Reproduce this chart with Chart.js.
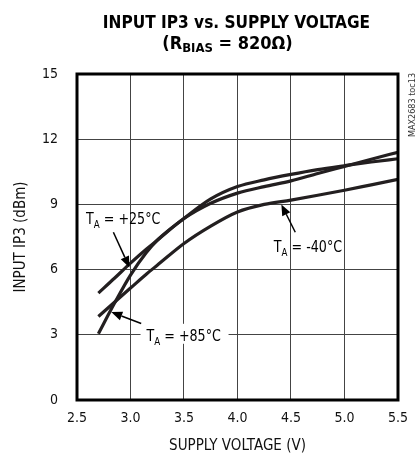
<!DOCTYPE html>
<html>
<head>
<meta charset="utf-8">
<script src="https://cdn.jsdelivr.net/npm/chart.js@4.4.1/dist/chart.umd.min.js"></script>
<style>
  html, body { margin: 0; padding: 0; background: #fff; }
  #wrap { width: 418px; height: 455px; }
</style>
</head>
<body>
<div id="wrap"><canvas id="grafico" width="418" height="455"></canvas></div>
<script>
// Tensión de alimentación (V) y IIP3 de entrada (dBm)
const voltajes = [2.7, 2.85, 3.0, 3.15, 3.25, 3.5, 3.75, 4.0, 4.25, 4.5, 4.75, 5.0, 5.25, 5.5];
const iip3_25 = [4.92, 5.6, 6.3, 6.95, 7.35, 8.35, 9.05, 9.52, 9.82, 10.08, 10.42, 10.75, 11.08, 11.4];
const iip3_85 = [3.05, 4.45, 5.75, 6.8, 7.35, 8.35, 9.25, 9.82, 10.13, 10.38, 10.6, 10.78, 10.95, 11.1];
const iip3_m40 = [3.84, 4.5, 5.15, 5.8, 6.2, 7.2, 8.0, 8.65, 9.0, 9.2, 9.42, 9.65, 9.9, 10.15];

const ticksX = [2.5, 3.0, 3.5, 4.0, 4.5, 5.0, 5.5];
const ticksY = [0, 3, 6, 9, 12, 15];

const FUENTE = "'Liberation Sans Narrow', 'DejaVu Sans Condensed', 'Liberation Sans', sans-serif";
const TINTA = '#231f20';

function puntos(valores) {
    return voltajes.map((v, i) => ({ x: v, y: valores[i] }));
}

// texto "TA = ..." con subíndice (estrechado a mano)
function etiquetaTA(ctx, x, y, resto) {
    ctx.save();
    ctx.translate(x, y);
    ctx.scale(0.88, 1);
    ctx.fillStyle = '#000';
    ctx.textBaseline = 'alphabetic';
    ctx.textAlign = 'left';
    ctx.font = '16px ' + FUENTE;
    ctx.fillText('T', 0, 0);
    let w = ctx.measureText('T').width;
    ctx.font = '11px ' + FUENTE;
    ctx.fillText('A', w, 4);
    w += ctx.measureText('A').width;
    ctx.font = '16px ' + FUENTE;
    ctx.fillText(resto, w, 0);
    ctx.restore();
}

function flecha(ctx, x1, y1, x2, y2) {
    const ang = Math.atan2(y2 - y1, x2 - x1);
    const largo = 11, ancho = 4.5;
    const bx = x2 - largo * Math.cos(ang), by = y2 - largo * Math.sin(ang);
    ctx.strokeStyle = '#000';
    ctx.lineWidth = 1.5;
    ctx.beginPath();
    ctx.moveTo(x1, y1);
    ctx.lineTo(bx, by);
    ctx.stroke();
    ctx.fillStyle = '#000';
    ctx.beginPath();
    ctx.moveTo(x2, y2);
    ctx.lineTo(bx + ancho * Math.sin(ang), by - ancho * Math.cos(ang));
    ctx.lineTo(bx - ancho * Math.sin(ang), by + ancho * Math.cos(ang));
    ctx.closePath();
    ctx.fill();
}

const extras = {
    id: 'extras',
    afterDraw(chart) {
        const ctx = chart.ctx;
        const a = chart.chartArea;
        const sx = chart.scales.x, sy = chart.scales.y;
        ctx.save();

        // marco grueso
        ctx.strokeStyle = '#000';
        ctx.lineWidth = 3;
        ctx.strokeRect(a.left, a.top, a.right - a.left, a.bottom - a.top);

        // título
        const cx = (a.left + a.right) / 2;
        ctx.fillStyle = '#000';
        ctx.textAlign = 'center';
        ctx.textBaseline = 'middle';
        ctx.font = 'bold 18px ' + FUENTE;
        ctx.save();
        ctx.translate(cx - 1, 23);
        ctx.scale(0.95, 1);
        ctx.fillText('INPUT IP3 vs. SUPPLY VOLTAGE', 0, 0);
        ctx.restore();
        const p1 = '(R', p2 = 'BIAS', p3 = ' = 820Ω)';
        ctx.font = 'bold 18px ' + FUENTE;
        const w1 = ctx.measureText(p1).width, w3 = ctx.measureText(p3).width;
        ctx.font = 'bold 13px ' + FUENTE;
        const w2 = ctx.measureText(p2).width;
        let x0 = cx - 10 - (w1 + w2 + w3) / 2;
        ctx.textAlign = 'left';
        ctx.textBaseline = 'alphabetic';
        ctx.font = 'bold 18px ' + FUENTE;
        ctx.fillText(p1, x0, 49);
        ctx.font = 'bold 13px ' + FUENTE;
        ctx.fillText(p2, x0 + w1, 52);
        ctx.font = 'bold 18px ' + FUENTE;
        ctx.fillText(p3, x0 + w1 + w2, 49);

        // marca lateral
        ctx.save();
        ctx.translate(413, 105);
        ctx.rotate(-Math.PI / 2);
        ctx.font = '9px ' + FUENTE;
        ctx.textAlign = 'center';
        ctx.textBaseline = 'middle';
        ctx.fillStyle = '#333';
        ctx.fillText('MAX2683 toc13', 0, 0);
        ctx.restore();

        // etiquetas de temperatura
        etiquetaTA(ctx, sx.getPixelForValue(2.585), sy.getPixelForValue(8.1), ' = +25°C');
        flecha(ctx, sx.getPixelForValue(2.84), sy.getPixelForValue(7.72), sx.getPixelForValue(2.99), sy.getPixelForValue(6.1));

        etiquetaTA(ctx, sx.getPixelForValue(4.34), sy.getPixelForValue(6.8), ' = -40°C');
        flecha(ctx, sx.getPixelForValue(4.54), sy.getPixelForValue(7.72), sx.getPixelForValue(4.41), sy.getPixelForValue(9.0));

        // fondo blanco sobre la rejilla para +85
        const lx = sx.getPixelForValue(3.15), ly = sy.getPixelForValue(3.0);
        ctx.fillStyle = '#fff';
        ctx.fillRect(lx - 6, ly - 11, 88, 20);
        etiquetaTA(ctx, lx, ly + 6, ' = +85°C');
        flecha(ctx, sx.getPixelForValue(3.10), sy.getPixelForValue(3.52), sx.getPixelForValue(2.82), sy.getPixelForValue(4.05));

        ctx.restore();
    }
};

const serie = (datos) => ({
    data: puntos(datos),
    borderColor: TINTA,
    borderWidth: 3.2,
    pointRadius: 0,
    fill: false,
    cubicInterpolationMode: 'monotone'
});

const ctxGrafico = document.getElementById('grafico').getContext('2d');
new Chart(ctxGrafico, {
    type: 'line',
    data: {
        datasets: [
            Object.assign({ label: 'TA = +25°C' }, serie(iip3_25)),
            Object.assign({ label: 'TA = +85°C' }, serie(iip3_85)),
            Object.assign({ label: 'TA = -40°C' }, serie(iip3_m40))
        ]
    },
    options: {
        responsive: false,
        animation: false,
        layout: { padding: { left: 0, top: 74, right: 16, bottom: 0 } },
        plugins: {
            legend: { display: false },
            tooltip: { enabled: false }
        },
        scales: {
            x: {
                type: 'linear',
                min: 2.5,
                max: 5.5,
                afterBuildTicks: (s) => { s.ticks = ticksX.map(v => ({ value: v })); },
                afterFit: (s) => { s.height = 55; },
                grid: { color: '#444', lineWidth: 1, drawTicks: false },
                border: { display: false },
                ticks: {
                    padding: 10,
                    color: '#111',
                    font: { family: FUENTE, size: 14 },
                    callback: (v) => Number(v).toFixed(1)
                },
                title: {
                    display: true,
                    text: 'SUPPLY VOLTAGE (V)',
                    color: '#111',
                    font: { family: FUENTE, size: 15 },
                    padding: { top: 6, bottom: 0 }
                }
            },
            y: {
                min: 0,
                max: 15,
                afterBuildTicks: (s) => { s.ticks = ticksY.map(v => ({ value: v })); },
                afterFit: (s) => { s.width = 77; },
                grid: { color: '#444', lineWidth: 1, drawTicks: false },
                border: { display: false },
                ticks: {
                    padding: 19,
                    color: '#111',
                    font: { family: FUENTE, size: 14 }
                },
                title: {
                    display: true,
                    text: 'INPUT IP3 (dBm)',
                    color: '#111',
                    font: { family: FUENTE, size: 15 },
                    padding: { top: 12, bottom: 0 }
                }
            }
        }
    },
    plugins: [extras]
});
</script>
</body>
</html>
